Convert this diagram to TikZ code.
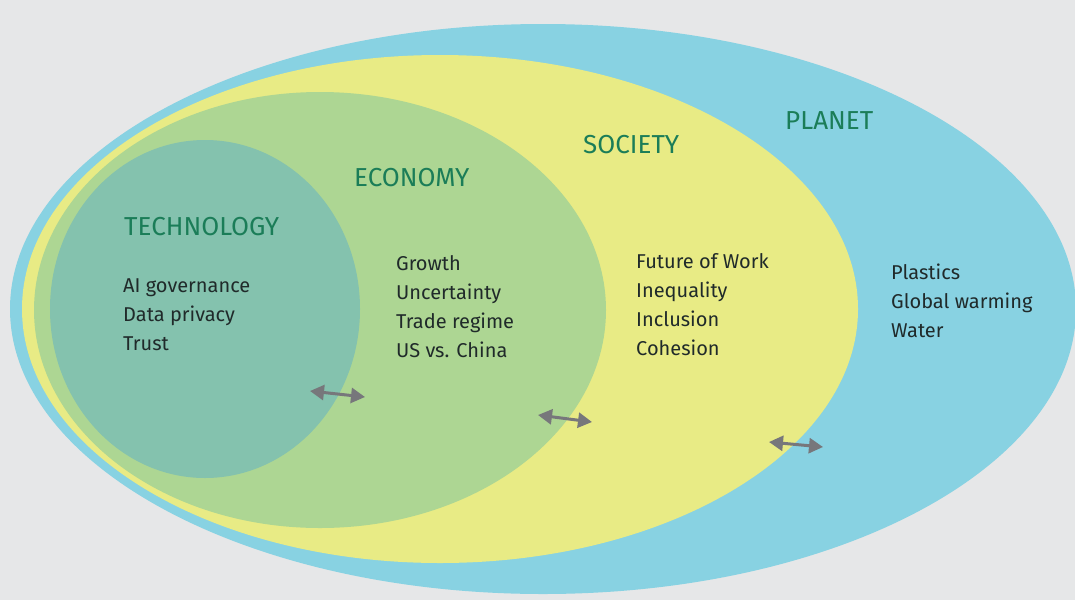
\documentclass[tikz,border=0pt]{standalone}
\usepackage{fontspec}
\setmainfont{Fira Sans}
\usetikzlibrary{arrows.meta}
\definecolor{bgGray}{HTML}{E6E7E8}
\definecolor{planetBlue}{HTML}{88D2E2}
\definecolor{societyYellow}{HTML}{E8EB85}
\definecolor{economyGreen}{HTML}{ADD693}
\definecolor{techTeal}{HTML}{84C2AE}
\definecolor{titleGreen}{HTML}{1B7D58}
\definecolor{bodyDark}{HTML}{202A2A}
\definecolor{arrowGray}{HTML}{77777B}
\begin{document}
\begin{tikzpicture}[x=1pt, y=-1pt,
    title/.style={anchor=base west, inner sep=0pt, text=titleGreen, font=\fontsize{26}{30}\selectfont},
    items/.style={anchor=base west, inner sep=0pt, text=bodyDark, align=left, font=\fontsize{20}{29}\selectfont},
    link/.style={{Triangle[length=14pt,width=15pt]}-{Triangle[length=14pt,width=15pt]}, line width=3pt, arrowGray}]
    % background and rings
    \fill[bgGray] (0,0) rectangle (1075,600);
    \useasboundingbox (0,0) rectangle (1075,600);
    \fill[planetBlue] (543,309) ellipse [x radius=533pt, y radius=285pt];
    \fill[societyYellow] (440,309) ellipse [x radius=418pt, y radius=254pt];
    \fill[economyGreen] (320,310) ellipse [x radius=286pt, y radius=218pt];
    \fill[techTeal] (205,309) ellipse [x radius=155pt, y radius=169pt];

    % Titles
    \node[title] (tech) at (124,235) {TECHNOLOGY};
    \node[title] (econ) at (354,186) {ECONOMY};
    \node[title] (soc) at (583,153) {SOCIETY};
    \node[title] (planet) at (785,129) {PLANET};

    % Topics (anchored on the last line)
    \node[items] (techlist) at (123,350) {AI governance\\Data privacy\\Trust};
    \node[items] (econlist) at (396,357) {Growth\\Uncertainty\\Trade regime\\US vs. China};
    \node[items] (soclist) at (636,355) {Future of Work\\Inequality\\Inclusion\\Cohesion};
    \node[items] (planetlist) at (891,337) {Plastics\\Global warming\\Water};

    % Links between rings
    \coordinate (t1) at (310,391); \coordinate (e1) at (365,397);
    \coordinate (e2) at (538,415); \coordinate (s2) at (592,422);
    \coordinate (s3) at (769,442); \coordinate (p3) at (823,447);
    \draw[link] (t1) -- (e1);
    \draw[link] (e2) -- (s2);
    \draw[link] (s3) -- (p3);
\end{tikzpicture}
\end{document}
